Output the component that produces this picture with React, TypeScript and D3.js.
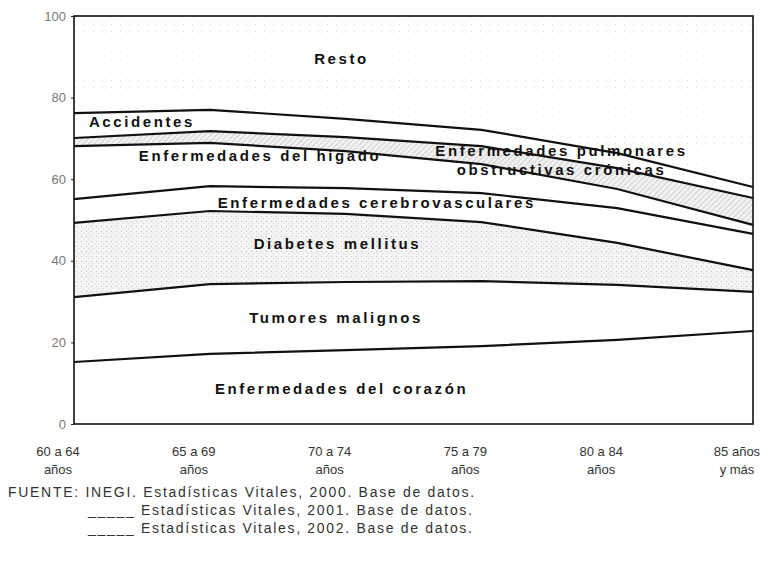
import React, { useEffect, useRef } from "react";
import * as d3 from "d3";

// grupos de edad (dos renglones por etiqueta)
const grupos = ["60 a 64", "65 a 69", "70 a 74", "75 a 79", "80 a 84", "85 años"];
const grupos2 = ["años", "años", "años", "años", "años", "y más"];

// porcentaje de defunciones por causa (de abajo hacia arriba)
const corazon = [15.2, 17.2, 18.1, 19.1, 20.6, 22.8];
const tumores = [15.9, 17.1, 16.7, 15.9, 13.5, 9.6];
const diabetes = [18.2, 17.9, 16.7, 14.5, 10.3, 5.3];
const cerebro = [5.8, 6.1, 6.3, 7.1, 8.5, 8.9];
const higado = [13.0, 10.6, 9.1, 7.1, 4.7, 2.2];
const pulmonares = [2.0, 2.9, 3.4, 4.4, 5.1, 6.6];
const accidentes = [6.1, 5.2, 4.5, 4.0, 3.7, 2.7];
const resto = [23.8, 23.0, 25.2, 27.9, 33.6, 41.9];

const causas = ["corazon", "tumores", "diabetes", "cerebro", "higado", "pulmonares", "accidentes", "resto"];
const series = [corazon, tumores, diabetes, cerebro, higado, pulmonares, accidentes, resto];

const ticksY = [0, 20, 40, 60, 80, 100];

// etiquetas dentro del área: [texto, posición en x (índice), valor en y]
const etiquetas: [string, number, number][] = [
  ["Resto", 1.97, 89.2],
  ["Accidentes", 0.5, 73.8],
  ["Enfermedades del hígado", 1.37, 65.4],
  ["Enfermedades pulmonares", 3.59, 66.7],
  ["obstructivas crónicas", 3.59, 62.0],
  ["Enfermedades cerebrovasculares", 2.23, 53.9],
  ["Diabetes mellitus", 1.94, 43.9],
  ["Tumores malignos", 1.93, 25.7],
  ["Enfermedades del corazón", 1.97, 8.3],
];

const fuente = [
  "FUENTE: INEGI. Estadísticas Vitales, 2000. Base de datos.",
  "_____ Estadísticas Vitales, 2001. Base de datos.",
  "_____ Estadísticas Vitales, 2002. Base de datos.",
];

export default function App() {
  const ref = useRef<SVGSVGElement>(null);

  useEffect(() => {
    const svg = d3.select(ref.current);
    svg.selectAll("*").remove();

    const m = { left: 74, right: 753, top: 16, bottom: 424 };

    const x = d3.scaleLinear().domain([0, grupos.length - 1]).range([m.left, m.right]);
    const y = d3.scaleLinear().domain([0, 100]).range([m.bottom, m.top]);

    const tabla = grupos.map((g, i) => {
      const fila: any = { grupo: g, i };
      causas.forEach((c, k) => (fila[c] = series[k][i]));
      return fila;
    });
    const pila = d3.stack().keys(causas)(tabla);

    const defs = svg.append("defs");
    const puntos = defs
      .append("pattern")
      .attr("id", "puntos")
      .attr("width", 5)
      .attr("height", 5)
      .attr("patternUnits", "userSpaceOnUse");
    puntos.append("rect").attr("width", 5).attr("height", 5).attr("fill", "#f4f4f4");
    puntos.append("rect").attr("x", 1).attr("y", 1).attr("width", 1).attr("height", 1).attr("fill", "#bdbdbd");
    puntos.append("rect").attr("x", 3).attr("y", 3).attr("width", 1).attr("height", 1).attr("fill", "#d4d4d4");

    const rayas = defs
      .append("pattern")
      .attr("id", "rayas")
      .attr("width", 4)
      .attr("height", 4)
      .attr("patternUnits", "userSpaceOnUse")
      .attr("patternTransform", "rotate(45)");
    rayas.append("rect").attr("width", 4).attr("height", 4).attr("fill", "#f2f2f2");
    rayas.append("line").attr("x1", 0).attr("y1", 0).attr("x2", 0).attr("y2", 4).attr("stroke", "#b0b0b0").attr("stroke-width", 1);

    const ligero = defs
      .append("pattern")
      .attr("id", "ligero")
      .attr("width", 9)
      .attr("height", 7)
      .attr("patternUnits", "userSpaceOnUse");
    ligero.append("rect").attr("width", 9).attr("height", 7).attr("fill", "#ffffff");
    ligero.append("rect").attr("x", 3).attr("y", 3).attr("width", 1).attr("height", 1).attr("fill", "#dedede");

    const rellenos: Record<string, string> = {
      corazon: "#ffffff",
      tumores: "#ffffff",
      diabetes: "url(#puntos)",
      cerebro: "#ffffff",
      higado: "#ffffff",
      pulmonares: "url(#rayas)",
      accidentes: "#ffffff",
      resto: "url(#ligero)",
    };

    const area = d3
      .area<any>()
      .x((d) => x(d.data.i))
      .y0((d) => y(d[0]))
      .y1((d) => y(d[1]));

    svg
      .append("g")
      .selectAll("path")
      .data(pila)
      .join("path")
      .attr("d", area)
      .attr("fill", (d) => rellenos[d.key]);

    const linea = d3
      .line<any>()
      .x((d) => x(d.data.i))
      .y((d) => y(d[1]));

    svg
      .append("g")
      .selectAll("path")
      .data(pila.slice(0, -1))
      .join("path")
      .attr("d", linea)
      .attr("fill", "none")
      .attr("stroke", "#111")
      .attr("stroke-width", 2.2);

    // marco
    svg
      .append("rect")
      .attr("x", m.left)
      .attr("y", m.top)
      .attr("width", m.right - m.left)
      .attr("height", m.bottom - m.top)
      .attr("fill", "none")
      .attr("stroke", "#111")
      .attr("stroke-width", 1.6);

    // eje y
    const ejeY = svg
      .append("g")
      .attr("transform", `translate(${m.left},0)`)
      .call(d3.axisLeft(y).tickValues(ticksY).tickSize(3).tickPadding(5));
    ejeY.select(".domain").remove();
    ejeY.selectAll("line").attr("stroke", "#222");
    ejeY
      .selectAll("text")
      .attr("font-family", "Liberation Sans, Arial, sans-serif")
      .attr("font-size", 13)
      .attr("fill", "#777");

    // eje x
    const gx = svg.append("g").attr("font-family", "Liberation Sans, Arial, sans-serif").attr("font-size", 13).attr("fill", "#333");
    const xEtiqueta = d3.scaleLinear().domain([0, grupos.length - 1]).range([58, 737]);
    grupos.forEach((g, i) => {
      const t = gx.append("text").attr("text-anchor", "middle").attr("x", xEtiqueta(i));
      t.append("tspan").attr("x", xEtiqueta(i)).attr("y", 456).text(g);
      t.append("tspan").attr("x", xEtiqueta(i)).attr("y", 474).text(grupos2[i]);
    });

    // etiquetas de causas
    svg
      .append("g")
      .selectAll("text")
      .data(etiquetas)
      .join("text")
      .attr("x", (d) => x(d[1]))
      .attr("y", (d) => y(d[2]))
      .attr("text-anchor", "middle")
      .attr("dominant-baseline", "middle")
      .attr("font-family", "Liberation Sans, Arial, sans-serif")
      .attr("font-weight", "bold")
      .attr("font-size", 15)
      .attr("letter-spacing", 2.6)
      .attr("fill", "#111")
      .text((d) => d[0]);

    // fuente
    svg
      .append("g")
      .selectAll("text")
      .data(fuente)
      .join("text")
      .attr("x", (d, i) => (i === 0 ? 8 : 88))
      .attr("y", (d, i) => 497 + i * 18)
      .attr("font-family", "Liberation Sans, Arial, sans-serif")
      .attr("font-size", 14)
      .attr("letter-spacing", 1.7)
      .attr("fill", "#333")
      .text((d) => d);
  }, []);

  return (
    <svg
      ref={ref}
      width={765}
      height={563}
      style={{ position: "absolute", left: 0, top: 0, background: "#fff" }}
    ></svg>
  );
}
